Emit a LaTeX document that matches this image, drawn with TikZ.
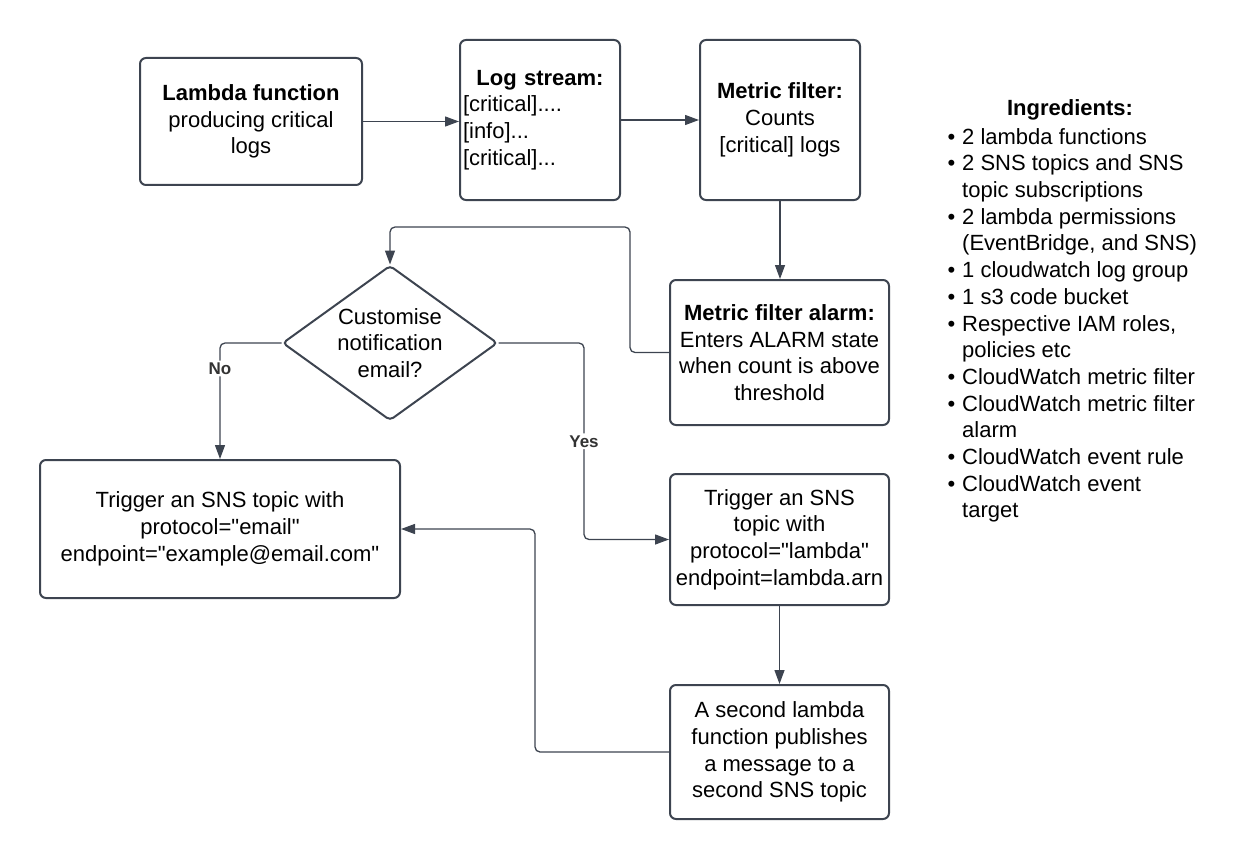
\documentclass[tikz,border=0pt]{standalone}
\usepackage{fontspec}
\setmainfont{Liberation Sans}[Ligatures=TeXOff]
\usetikzlibrary{arrows.meta,shapes.geometric}
\definecolor{linegray}{HTML}{3D4450}
\newcommand{\ingbullet}{\llap{\textbullet\hspace{7pt}}}

\begin{document}
\begin{tikzpicture}[x=1pt,y=-1pt,
  box/.style={draw=linegray,line width=2pt,rounded corners=6pt,align=center,inner sep=0pt,font=\fontsize{22}{26.7}\selectfont},
  decision/.style={diamond,aspect=1.39,draw=linegray,line width=2pt,rounded corners=4pt,align=center,inner sep=0pt,minimum width=215pt,minimum height=155pt,font=\fontsize{22}{26.7}\selectfont},
  conn/.style={draw=linegray,line width=1.3pt,rounded corners=5pt,-{Triangle[length=14pt,width=10pt]}},
  lbl/.style={fill=white,inner sep=2pt,text=black!80,font=\fontsize{17}{20}\selectfont\bfseries}]
\useasboundingbox (0,0) rectangle (1240,856);
%boxes
\node[box,minimum width=222pt,minimum height=127pt] (lambda) at (251,121.5) {\textbf{Lambda function}\\producing critical\\logs};
\node[box,minimum width=160pt,minimum height=160pt,text width=154pt,align=left] (logs) at (540,120) {\makebox[\hsize]{\bfseries Log stream:}\\{}[critical]....\\{}[info]...\\{}[critical]...};
\node[box,minimum width=160pt,minimum height=160pt] (metric) at (780,120) {\textbf{Metric filter:}\\Counts\\{}[critical] logs};
\node[box,minimum width=219pt,minimum height=145pt] (alarm) at (779.5,352.5) {\textbf{Metric filter alarm:}\\Enters ALARM state\\when count is above\\threshold};
\node[decision] (custom) at (390,343) {Customise\\notification\\email?}; %decision
\node[box,minimum width=360pt,minimum height=138pt] (email) at (220,529) {Trigger an SNS topic with\\protocol="email"\\endpoint="example@email.com"};
\node[box,minimum width=219pt,minimum height=131pt] (snstopic) at (779.5,539.5) {Trigger an SNS\\topic with\\protocol="lambda"\\endpoint=lambda.arn};
\node[box,minimum width=219pt,minimum height=134pt] (publisher) at (779.5,752) {A second lambda\\function publishes\\a message to a\\second SNS topic};
%ingredients
\node[inner sep=0pt,font=\fontsize{22}{26.7}\selectfont\bfseries] (ingtitle) at (1070,110) {Ingredients:};
\node[anchor=north west,align=left,inner sep=0pt,font=\fontsize{22}{26.7}\selectfont] (inglist) at (962,128) {\ingbullet 2 lambda functions\\
\ingbullet 2 SNS topics and SNS\\
topic subscriptions\\
\ingbullet 2 lambda permissions\\
(EventBridge, and SNS)\\
\ingbullet 1 cloudwatch log group\\
\ingbullet 1 s3 code bucket\\
\ingbullet Respective IAM roles,\\
policies etc\\
\ingbullet CloudWatch metric filter\\
\ingbullet CloudWatch metric filter\\
alarm\\
\ingbullet CloudWatch event rule\\
\ingbullet CloudWatch event\\
target};
%connectors
\draw[conn] (lambda.east) -- (lambda.east -| logs.west);
\draw[conn] (logs) -- (metric);
\draw[conn] (metric.south) -- (metric.south |- alarm.north);
\draw[conn] (alarm.west) -| (630,227) -| (custom.north);
\draw[conn] (custom.west) -| node[lbl,pos=0.61]{No} (email.north);
\draw[conn] (custom.east) -| node[lbl,pos=0.75]{Yes} (584,539.5) -- (snstopic.west);
\draw[conn] (snstopic) -- (publisher);
\draw[conn] (publisher.west) -| (535,529) -- (email.east);
\end{tikzpicture}
\end{document}
